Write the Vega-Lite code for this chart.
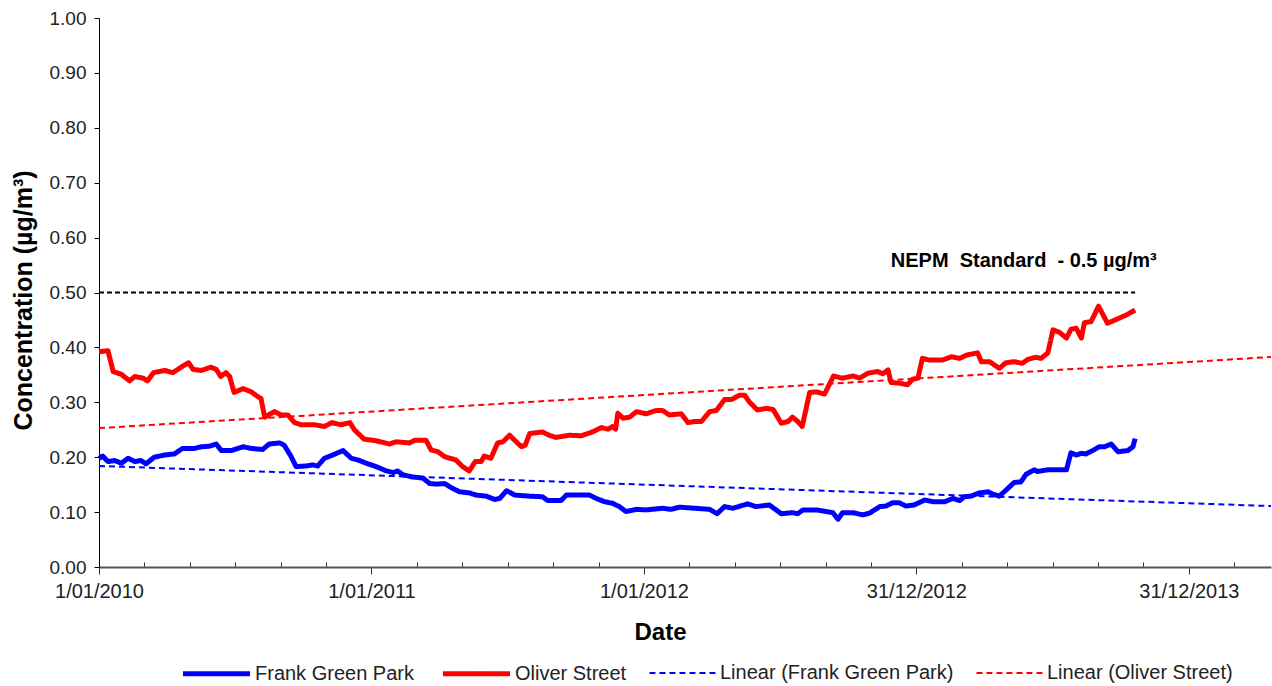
{
  "$schema": "https://vega.github.io/schema/vega-lite/v6.json",
  "width": 1172,
  "height": 549,
  "autosize": "none",
  "padding": {"left": 99, "top": 18, "right": 1, "bottom": 119},
  "background": "white",
  "config": {
    "view": {"stroke": null},
    "font": "Liberation Sans"
  },
  "datasets": {
    "series": [
      {"d": "2010-01-01", "v": 0.198, "s": "Frank Green Park"},
      {"d": "2010-01-06", "v": 0.202, "s": "Frank Green Park"},
      {"d": "2010-01-13", "v": 0.192, "s": "Frank Green Park"},
      {"d": "2010-01-22", "v": 0.194, "s": "Frank Green Park"},
      {"d": "2010-01-31", "v": 0.189, "s": "Frank Green Park"},
      {"d": "2010-02-09", "v": 0.198, "s": "Frank Green Park"},
      {"d": "2010-02-18", "v": 0.192, "s": "Frank Green Park"},
      {"d": "2010-02-26", "v": 0.194, "s": "Frank Green Park"},
      {"d": "2010-03-05", "v": 0.188, "s": "Frank Green Park"},
      {"d": "2010-03-16", "v": 0.200, "s": "Frank Green Park"},
      {"d": "2010-03-30", "v": 0.204, "s": "Frank Green Park"},
      {"d": "2010-04-12", "v": 0.206, "s": "Frank Green Park"},
      {"d": "2010-04-23", "v": 0.216, "s": "Frank Green Park"},
      {"d": "2010-05-09", "v": 0.216, "s": "Frank Green Park"},
      {"d": "2010-05-18", "v": 0.219, "s": "Frank Green Park"},
      {"d": "2010-05-29", "v": 0.220, "s": "Frank Green Park"},
      {"d": "2010-06-07", "v": 0.224, "s": "Frank Green Park"},
      {"d": "2010-06-14", "v": 0.212, "s": "Frank Green Park"},
      {"d": "2010-06-27", "v": 0.212, "s": "Frank Green Park"},
      {"d": "2010-07-13", "v": 0.219, "s": "Frank Green Park"},
      {"d": "2010-07-24", "v": 0.216, "s": "Frank Green Park"},
      {"d": "2010-08-08", "v": 0.214, "s": "Frank Green Park"},
      {"d": "2010-08-17", "v": 0.224, "s": "Frank Green Park"},
      {"d": "2010-08-31", "v": 0.226, "s": "Frank Green Park"},
      {"d": "2010-09-06", "v": 0.222, "s": "Frank Green Park"},
      {"d": "2010-09-15", "v": 0.202, "s": "Frank Green Park"},
      {"d": "2010-09-22", "v": 0.183, "s": "Frank Green Park"},
      {"d": "2010-10-06", "v": 0.184, "s": "Frank Green Park"},
      {"d": "2010-10-14", "v": 0.186, "s": "Frank Green Park"},
      {"d": "2010-10-21", "v": 0.184, "s": "Frank Green Park"},
      {"d": "2010-10-30", "v": 0.198, "s": "Frank Green Park"},
      {"d": "2010-11-10", "v": 0.204, "s": "Frank Green Park"},
      {"d": "2010-11-24", "v": 0.212, "s": "Frank Green Park"},
      {"d": "2010-12-05", "v": 0.198, "s": "Frank Green Park"},
      {"d": "2010-12-16", "v": 0.194, "s": "Frank Green Park"},
      {"d": "2010-12-25", "v": 0.189, "s": "Frank Green Park"},
      {"d": "2011-01-07", "v": 0.183, "s": "Frank Green Park"},
      {"d": "2011-01-21", "v": 0.175, "s": "Frank Green Park"},
      {"d": "2011-01-30", "v": 0.172, "s": "Frank Green Park"},
      {"d": "2011-02-05", "v": 0.175, "s": "Frank Green Park"},
      {"d": "2011-02-12", "v": 0.168, "s": "Frank Green Park"},
      {"d": "2011-02-25", "v": 0.164, "s": "Frank Green Park"},
      {"d": "2011-03-11", "v": 0.162, "s": "Frank Green Park"},
      {"d": "2011-03-20", "v": 0.152, "s": "Frank Green Park"},
      {"d": "2011-03-29", "v": 0.151, "s": "Frank Green Park"},
      {"d": "2011-04-09", "v": 0.152, "s": "Frank Green Park"},
      {"d": "2011-04-20", "v": 0.143, "s": "Frank Green Park"},
      {"d": "2011-04-29", "v": 0.137, "s": "Frank Green Park"},
      {"d": "2011-05-12", "v": 0.135, "s": "Frank Green Park"},
      {"d": "2011-05-21", "v": 0.131, "s": "Frank Green Park"},
      {"d": "2011-06-04", "v": 0.129, "s": "Frank Green Park"},
      {"d": "2011-06-15", "v": 0.123, "s": "Frank Green Park"},
      {"d": "2011-06-22", "v": 0.125, "s": "Frank Green Park"},
      {"d": "2011-07-01", "v": 0.139, "s": "Frank Green Park"},
      {"d": "2011-07-12", "v": 0.131, "s": "Frank Green Park"},
      {"d": "2011-08-01", "v": 0.129, "s": "Frank Green Park"},
      {"d": "2011-08-18", "v": 0.128, "s": "Frank Green Park"},
      {"d": "2011-08-25", "v": 0.121, "s": "Frank Green Park"},
      {"d": "2011-09-12", "v": 0.121, "s": "Frank Green Park"},
      {"d": "2011-09-19", "v": 0.131, "s": "Frank Green Park"},
      {"d": "2011-10-20", "v": 0.131, "s": "Frank Green Park"},
      {"d": "2011-10-29", "v": 0.125, "s": "Frank Green Park"},
      {"d": "2011-11-09", "v": 0.119, "s": "Frank Green Park"},
      {"d": "2011-11-20", "v": 0.116, "s": "Frank Green Park"},
      {"d": "2011-11-29", "v": 0.110, "s": "Frank Green Park"},
      {"d": "2011-12-08", "v": 0.101, "s": "Frank Green Park"},
      {"d": "2011-12-22", "v": 0.105, "s": "Frank Green Park"},
      {"d": "2012-01-04", "v": 0.104, "s": "Frank Green Park"},
      {"d": "2012-01-26", "v": 0.107, "s": "Frank Green Park"},
      {"d": "2012-02-06", "v": 0.105, "s": "Frank Green Park"},
      {"d": "2012-02-18", "v": 0.109, "s": "Frank Green Park"},
      {"d": "2012-03-29", "v": 0.105, "s": "Frank Green Park"},
      {"d": "2012-04-08", "v": 0.097, "s": "Frank Green Park"},
      {"d": "2012-04-18", "v": 0.110, "s": "Frank Green Park"},
      {"d": "2012-04-29", "v": 0.107, "s": "Frank Green Park"},
      {"d": "2012-05-19", "v": 0.115, "s": "Frank Green Park"},
      {"d": "2012-05-30", "v": 0.110, "s": "Frank Green Park"},
      {"d": "2012-06-17", "v": 0.113, "s": "Frank Green Park"},
      {"d": "2012-07-03", "v": 0.097, "s": "Frank Green Park"},
      {"d": "2012-07-18", "v": 0.099, "s": "Frank Green Park"},
      {"d": "2012-07-25", "v": 0.097, "s": "Frank Green Park"},
      {"d": "2012-08-01", "v": 0.104, "s": "Frank Green Park"},
      {"d": "2012-08-19", "v": 0.104, "s": "Frank Green Park"},
      {"d": "2012-09-10", "v": 0.099, "s": "Frank Green Park"},
      {"d": "2012-09-17", "v": 0.087, "s": "Frank Green Park"},
      {"d": "2012-09-23", "v": 0.099, "s": "Frank Green Park"},
      {"d": "2012-10-07", "v": 0.099, "s": "Frank Green Park"},
      {"d": "2012-10-20", "v": 0.095, "s": "Frank Green Park"},
      {"d": "2012-10-29", "v": 0.098, "s": "Frank Green Park"},
      {"d": "2012-11-12", "v": 0.110, "s": "Frank Green Park"},
      {"d": "2012-11-20", "v": 0.111, "s": "Frank Green Park"},
      {"d": "2012-11-29", "v": 0.117, "s": "Frank Green Park"},
      {"d": "2012-12-08", "v": 0.117, "s": "Frank Green Park"},
      {"d": "2012-12-17", "v": 0.111, "s": "Frank Green Park"},
      {"d": "2012-12-28", "v": 0.113, "s": "Frank Green Park"},
      {"d": "2013-01-11", "v": 0.122, "s": "Frank Green Park"},
      {"d": "2013-01-22", "v": 0.119, "s": "Frank Green Park"},
      {"d": "2013-02-07", "v": 0.119, "s": "Frank Green Park"},
      {"d": "2013-02-18", "v": 0.125, "s": "Frank Green Park"},
      {"d": "2013-02-27", "v": 0.121, "s": "Frank Green Park"},
      {"d": "2013-03-05", "v": 0.128, "s": "Frank Green Park"},
      {"d": "2013-03-14", "v": 0.129, "s": "Frank Green Park"},
      {"d": "2013-03-25", "v": 0.135, "s": "Frank Green Park"},
      {"d": "2013-04-06", "v": 0.137, "s": "Frank Green Park"},
      {"d": "2013-04-12", "v": 0.133, "s": "Frank Green Park"},
      {"d": "2013-04-21", "v": 0.129, "s": "Frank Green Park"},
      {"d": "2013-04-30", "v": 0.140, "s": "Frank Green Park"},
      {"d": "2013-05-11", "v": 0.154, "s": "Frank Green Park"},
      {"d": "2013-05-20", "v": 0.155, "s": "Frank Green Park"},
      {"d": "2013-05-27", "v": 0.169, "s": "Frank Green Park"},
      {"d": "2013-06-07", "v": 0.177, "s": "Frank Green Park"},
      {"d": "2013-06-11", "v": 0.174, "s": "Frank Green Park"},
      {"d": "2013-06-25", "v": 0.177, "s": "Frank Green Park"},
      {"d": "2013-07-20", "v": 0.177, "s": "Frank Green Park"},
      {"d": "2013-07-26", "v": 0.208, "s": "Frank Green Park"},
      {"d": "2013-08-02", "v": 0.204, "s": "Frank Green Park"},
      {"d": "2013-08-09", "v": 0.207, "s": "Frank Green Park"},
      {"d": "2013-08-15", "v": 0.206, "s": "Frank Green Park"},
      {"d": "2013-08-24", "v": 0.212, "s": "Frank Green Park"},
      {"d": "2013-09-02", "v": 0.219, "s": "Frank Green Park"},
      {"d": "2013-09-09", "v": 0.219, "s": "Frank Green Park"},
      {"d": "2013-09-18", "v": 0.224, "s": "Frank Green Park"},
      {"d": "2013-09-27", "v": 0.210, "s": "Frank Green Park"},
      {"d": "2013-10-10", "v": 0.212, "s": "Frank Green Park"},
      {"d": "2013-10-17", "v": 0.219, "s": "Frank Green Park"},
      {"d": "2013-10-20", "v": 0.234, "s": "Frank Green Park"},

      {"d": "2010-01-01", "v": 0.392, "s": "Oliver Street"},
      {"d": "2010-01-13", "v": 0.394, "s": "Oliver Street"},
      {"d": "2010-01-20", "v": 0.356, "s": "Oliver Street"},
      {"d": "2010-01-31", "v": 0.351, "s": "Oliver Street"},
      {"d": "2010-02-11", "v": 0.339, "s": "Oliver Street"},
      {"d": "2010-02-18", "v": 0.347, "s": "Oliver Street"},
      {"d": "2010-03-01", "v": 0.344, "s": "Oliver Street"},
      {"d": "2010-03-07", "v": 0.339, "s": "Oliver Street"},
      {"d": "2010-03-15", "v": 0.354, "s": "Oliver Street"},
      {"d": "2010-03-30", "v": 0.358, "s": "Oliver Street"},
      {"d": "2010-04-10", "v": 0.354, "s": "Oliver Street"},
      {"d": "2010-04-21", "v": 0.364, "s": "Oliver Street"},
      {"d": "2010-05-01", "v": 0.372, "s": "Oliver Street"},
      {"d": "2010-05-07", "v": 0.360, "s": "Oliver Street"},
      {"d": "2010-05-18", "v": 0.358, "s": "Oliver Street"},
      {"d": "2010-05-31", "v": 0.364, "s": "Oliver Street"},
      {"d": "2010-06-07", "v": 0.360, "s": "Oliver Street"},
      {"d": "2010-06-13", "v": 0.347, "s": "Oliver Street"},
      {"d": "2010-06-20", "v": 0.354, "s": "Oliver Street"},
      {"d": "2010-06-25", "v": 0.347, "s": "Oliver Street"},
      {"d": "2010-07-01", "v": 0.318, "s": "Oliver Street"},
      {"d": "2010-07-13", "v": 0.325, "s": "Oliver Street"},
      {"d": "2010-07-24", "v": 0.319, "s": "Oliver Street"},
      {"d": "2010-08-02", "v": 0.310, "s": "Oliver Street"},
      {"d": "2010-08-06", "v": 0.307, "s": "Oliver Street"},
      {"d": "2010-08-11", "v": 0.273, "s": "Oliver Street"},
      {"d": "2010-08-24", "v": 0.283, "s": "Oliver Street"},
      {"d": "2010-09-02", "v": 0.277, "s": "Oliver Street"},
      {"d": "2010-09-11", "v": 0.277, "s": "Oliver Street"},
      {"d": "2010-09-20", "v": 0.263, "s": "Oliver Street"},
      {"d": "2010-09-29", "v": 0.259, "s": "Oliver Street"},
      {"d": "2010-10-17", "v": 0.259, "s": "Oliver Street"},
      {"d": "2010-10-30", "v": 0.256, "s": "Oliver Street"},
      {"d": "2010-11-09", "v": 0.263, "s": "Oliver Street"},
      {"d": "2010-11-21", "v": 0.259, "s": "Oliver Street"},
      {"d": "2010-12-03", "v": 0.263, "s": "Oliver Street"},
      {"d": "2010-12-09", "v": 0.250, "s": "Oliver Street"},
      {"d": "2010-12-22", "v": 0.233, "s": "Oliver Street"},
      {"d": "2011-01-07", "v": 0.230, "s": "Oliver Street"},
      {"d": "2011-01-25", "v": 0.224, "s": "Oliver Street"},
      {"d": "2011-02-03", "v": 0.228, "s": "Oliver Street"},
      {"d": "2011-02-21", "v": 0.226, "s": "Oliver Street"},
      {"d": "2011-02-28", "v": 0.231, "s": "Oliver Street"},
      {"d": "2011-03-15", "v": 0.231, "s": "Oliver Street"},
      {"d": "2011-03-22", "v": 0.213, "s": "Oliver Street"},
      {"d": "2011-03-31", "v": 0.210, "s": "Oliver Street"},
      {"d": "2011-04-09", "v": 0.201, "s": "Oliver Street"},
      {"d": "2011-04-24", "v": 0.195, "s": "Oliver Street"},
      {"d": "2011-05-03", "v": 0.183, "s": "Oliver Street"},
      {"d": "2011-05-12", "v": 0.175, "s": "Oliver Street"},
      {"d": "2011-05-20", "v": 0.192, "s": "Oliver Street"},
      {"d": "2011-05-28", "v": 0.192, "s": "Oliver Street"},
      {"d": "2011-06-01", "v": 0.202, "s": "Oliver Street"},
      {"d": "2011-06-10", "v": 0.198, "s": "Oliver Street"},
      {"d": "2011-06-19", "v": 0.226, "s": "Oliver Street"},
      {"d": "2011-06-26", "v": 0.228, "s": "Oliver Street"},
      {"d": "2011-07-05", "v": 0.240, "s": "Oliver Street"},
      {"d": "2011-07-14", "v": 0.228, "s": "Oliver Street"},
      {"d": "2011-07-21", "v": 0.219, "s": "Oliver Street"},
      {"d": "2011-07-26", "v": 0.222, "s": "Oliver Street"},
      {"d": "2011-08-01", "v": 0.243, "s": "Oliver Street"},
      {"d": "2011-08-18", "v": 0.246, "s": "Oliver Street"},
      {"d": "2011-08-27", "v": 0.240, "s": "Oliver Street"},
      {"d": "2011-09-05", "v": 0.236, "s": "Oliver Street"},
      {"d": "2011-09-23", "v": 0.240, "s": "Oliver Street"},
      {"d": "2011-10-09", "v": 0.239, "s": "Oliver Street"},
      {"d": "2011-10-24", "v": 0.246, "s": "Oliver Street"},
      {"d": "2011-11-05", "v": 0.254, "s": "Oliver Street"},
      {"d": "2011-11-14", "v": 0.251, "s": "Oliver Street"},
      {"d": "2011-11-20", "v": 0.256, "s": "Oliver Street"},
      {"d": "2011-11-24", "v": 0.251, "s": "Oliver Street"},
      {"d": "2011-11-27", "v": 0.280, "s": "Oliver Street"},
      {"d": "2011-12-04", "v": 0.271, "s": "Oliver Street"},
      {"d": "2011-12-13", "v": 0.273, "s": "Oliver Street"},
      {"d": "2011-12-22", "v": 0.283, "s": "Oliver Street"},
      {"d": "2012-01-04", "v": 0.279, "s": "Oliver Street"},
      {"d": "2012-01-17", "v": 0.285, "s": "Oliver Street"},
      {"d": "2012-01-26", "v": 0.285, "s": "Oliver Street"},
      {"d": "2012-02-04", "v": 0.277, "s": "Oliver Street"},
      {"d": "2012-02-20", "v": 0.279, "s": "Oliver Street"},
      {"d": "2012-02-29", "v": 0.263, "s": "Oliver Street"},
      {"d": "2012-03-09", "v": 0.265, "s": "Oliver Street"},
      {"d": "2012-03-18", "v": 0.265, "s": "Oliver Street"},
      {"d": "2012-03-29", "v": 0.283, "s": "Oliver Street"},
      {"d": "2012-04-07", "v": 0.285, "s": "Oliver Street"},
      {"d": "2012-04-18", "v": 0.305, "s": "Oliver Street"},
      {"d": "2012-04-27", "v": 0.305, "s": "Oliver Street"},
      {"d": "2012-05-08", "v": 0.313, "s": "Oliver Street"},
      {"d": "2012-05-15", "v": 0.313, "s": "Oliver Street"},
      {"d": "2012-05-21", "v": 0.301, "s": "Oliver Street"},
      {"d": "2012-06-01", "v": 0.286, "s": "Oliver Street"},
      {"d": "2012-06-13", "v": 0.289, "s": "Oliver Street"},
      {"d": "2012-06-22", "v": 0.287, "s": "Oliver Street"},
      {"d": "2012-07-03", "v": 0.262, "s": "Oliver Street"},
      {"d": "2012-07-12", "v": 0.265, "s": "Oliver Street"},
      {"d": "2012-07-18", "v": 0.273, "s": "Oliver Street"},
      {"d": "2012-07-25", "v": 0.265, "s": "Oliver Street"},
      {"d": "2012-07-31", "v": 0.256, "s": "Oliver Street"},
      {"d": "2012-08-10", "v": 0.318, "s": "Oliver Street"},
      {"d": "2012-08-19", "v": 0.319, "s": "Oliver Street"},
      {"d": "2012-08-30", "v": 0.315, "s": "Oliver Street"},
      {"d": "2012-09-11", "v": 0.348, "s": "Oliver Street"},
      {"d": "2012-09-23", "v": 0.344, "s": "Oliver Street"},
      {"d": "2012-10-07", "v": 0.348, "s": "Oliver Street"},
      {"d": "2012-10-16", "v": 0.344, "s": "Oliver Street"},
      {"d": "2012-10-27", "v": 0.353, "s": "Oliver Street"},
      {"d": "2012-11-09", "v": 0.356, "s": "Oliver Street"},
      {"d": "2012-11-16", "v": 0.352, "s": "Oliver Street"},
      {"d": "2012-11-23", "v": 0.359, "s": "Oliver Street"},
      {"d": "2012-11-27", "v": 0.336, "s": "Oliver Street"},
      {"d": "2012-12-08", "v": 0.335, "s": "Oliver Street"},
      {"d": "2012-12-19", "v": 0.332, "s": "Oliver Street"},
      {"d": "2012-12-26", "v": 0.342, "s": "Oliver Street"},
      {"d": "2013-01-02", "v": 0.344, "s": "Oliver Street"},
      {"d": "2013-01-08", "v": 0.380, "s": "Oliver Street"},
      {"d": "2013-01-17", "v": 0.377, "s": "Oliver Street"},
      {"d": "2013-02-04", "v": 0.377, "s": "Oliver Street"},
      {"d": "2013-02-16", "v": 0.383, "s": "Oliver Street"},
      {"d": "2013-02-27", "v": 0.380, "s": "Oliver Street"},
      {"d": "2013-03-08", "v": 0.386, "s": "Oliver Street"},
      {"d": "2013-03-23", "v": 0.390, "s": "Oliver Street"},
      {"d": "2013-03-28", "v": 0.374, "s": "Oliver Street"},
      {"d": "2013-04-08", "v": 0.374, "s": "Oliver Street"},
      {"d": "2013-04-21", "v": 0.362, "s": "Oliver Street"},
      {"d": "2013-04-30", "v": 0.372, "s": "Oliver Street"},
      {"d": "2013-05-11", "v": 0.374, "s": "Oliver Street"},
      {"d": "2013-05-22", "v": 0.371, "s": "Oliver Street"},
      {"d": "2013-05-29", "v": 0.378, "s": "Oliver Street"},
      {"d": "2013-06-09", "v": 0.382, "s": "Oliver Street"},
      {"d": "2013-06-16", "v": 0.380, "s": "Oliver Street"},
      {"d": "2013-06-25", "v": 0.390, "s": "Oliver Street"},
      {"d": "2013-07-02", "v": 0.432, "s": "Oliver Street"},
      {"d": "2013-07-11", "v": 0.427, "s": "Oliver Street"},
      {"d": "2013-07-20", "v": 0.417, "s": "Oliver Street"},
      {"d": "2013-07-26", "v": 0.433, "s": "Oliver Street"},
      {"d": "2013-08-02", "v": 0.435, "s": "Oliver Street"},
      {"d": "2013-08-09", "v": 0.417, "s": "Oliver Street"},
      {"d": "2013-08-13", "v": 0.445, "s": "Oliver Street"},
      {"d": "2013-08-22", "v": 0.447, "s": "Oliver Street"},
      {"d": "2013-09-01", "v": 0.475, "s": "Oliver Street"},
      {"d": "2013-09-13", "v": 0.444, "s": "Oliver Street"},
      {"d": "2013-09-25", "v": 0.451, "s": "Oliver Street"},
      {"d": "2013-10-08", "v": 0.459, "s": "Oliver Street"},
      {"d": "2013-10-20", "v": 0.468, "s": "Oliver Street"},

      {"d": "2010-01-01", "v": 0.184, "s": "Linear (Frank Green Park)"},
      {"d": "2014-04-20", "v": 0.111, "s": "Linear (Frank Green Park)"},
      {"d": "2010-01-01", "v": 0.253, "s": "Linear (Oliver Street)"},
      {"d": "2014-04-20", "v": 0.3825, "s": "Linear (Oliver Street)"}
    ],
    "nepm": [
      {"d": "2010-01-01", "v": 0.5},
      {"d": "2013-10-20", "v": 0.5}
    ],
    "label": [
      {"d": "2013-11-18", "v": 0.557, "t": "NEPM\u00a0\u00a0Standard\u00a0\u00a0-\u00a00.5\u00a0µg/m³"}
    ]
  },
  "layer": [
    {
      "data": {"name": "nepm"},
      "mark": {"type": "line", "color": "#000000", "strokeWidth": 2, "strokeDash": [5, 3]},
      "encoding": {
        "x": {"field": "d", "type": "temporal"},
        "y": {"field": "v", "type": "quantitative"}
      }
    },
    {
      "data": {"name": "series"},
      "mark": {"type": "line", "strokeJoin": "round", "strokeCap": "butt"},
      "encoding": {
        "x": {
          "field": "d",
          "type": "temporal",
          "title": "Date",
          "scale": {
            "type": "utc",
            "domain": [
              {"year": 2010, "month": 1, "date": 1, "utc": true},
              {"year": 2014, "month": 4, "date": 20, "utc": true}
            ]
          },
          "axis": {
            "values": [1262304000000, 1267560000000, 1272816000000, 1278072000000, 1283328000000, 1288584000000, 1293840000000, 1299096000000, 1304352000000, 1309608000000, 1314864000000, 1320120000000, 1325376000000, 1330632000000, 1335888000000, 1341144000000, 1346400000000, 1351656000000, 1356912000000, 1362168000000, 1367424000000, 1372680000000, 1377936000000, 1383192000000, 1388448000000, 1393704000000],
            "labelExpr": "(+datum.value - 1262304000000) % 31536000000 == 0 ? utcFormat(datum.value, '%-d/%m/%Y') : ''",
            "tickSize": {"condition": {"test": "(+datum.value - 1262304000000) % 31536000000 == 0", "value": 7}, "value": -5},
            "grid": false,
            "labelFlush": false,
            "labelOverlap": false,
            "labelFont": "Liberation Sans",
            "labelFontSize": 20,
            "labelColor": "#222222",
            "labelPadding": 7,
            "domainColor": "#555555",
            "domainWidth": 2,
            "tickColor": "#333333",
            "tickWidth": 1,
            "titleFont": "Liberation Sans",
            "titleFontSize": 24,
            "titleFontWeight": "bold",
            "titleColor": "#000000",
            "titleX": 561,
            "titleY": 65,
            "titleBaseline": "middle",
            "titleAlign": "center"
          }
        },
        "y": {
          "field": "v",
          "type": "quantitative",
          "title": "Concentration (µg/m³)",
          "scale": {"domain": [0, 1], "nice": false},
          "axis": {
            "values": [0, 0.1, 0.2, 0.3, 0.4, 0.5, 0.6, 0.7, 0.8, 0.9, 1.0],
            "format": ".2f",
            "grid": false,
            "labelFlush": false,
            "labelOverlap": false,
            "labelFont": "Liberation Sans",
            "labelFontSize": 19,
            "labelColor": "#222222",
            "labelPadding": 8,
            "tickSize": 5,
            "tickColor": "#000000",
            "domainColor": "#000000",
            "domainWidth": 1,
            "titleFont": "Liberation Sans",
            "titleFontSize": 25,
            "titleFontWeight": "bold",
            "titleColor": "#000000",
            "titleAngle": 270,
            "titleX": -76,
            "titleY": 282,
            "titleAlign": "center",
            "titleBaseline": "middle"
          }
        },
        "color": {
          "field": "s",
          "type": "nominal",
          "title": null,
          "scale": {
            "domain": ["Frank Green Park", "Oliver Street", "Linear (Frank Green Park)", "Linear (Oliver Street)"],
            "range": ["#0000FF", "#FF0000", "#0000FF", "#FF0000"]
          },
          "legend": {
            "orient": "none",
            "direction": "horizontal",
            "legendX": 81,
            "legendY": 619,
            "symbolType": "stroke",
            "symbolSize": 4500,
            "labelFont": "Liberation Sans",
            "labelFontSize": 20,
            "labelColor": "#222222",
            "labelOffset": 2,
            "columnPadding": 18,
            "labelLimit": 400
          }
        },
        "strokeDash": {
          "field": "s",
          "type": "nominal",
          "title": null,
          "scale": {
            "domain": ["Frank Green Park", "Oliver Street", "Linear (Frank Green Park)", "Linear (Oliver Street)"],
            "range": [[1, 0], [1, 0], [6, 4], [6, 4]]
          }
        },
        "strokeWidth": {
          "field": "s",
          "type": "nominal",
          "title": null,
          "scale": {
            "type": "ordinal",
            "domain": ["Frank Green Park", "Oliver Street", "Linear (Frank Green Park)", "Linear (Oliver Street)"],
            "range": [5, 5, 2, 2]
          }
        }
      }
    },
    {
      "data": {"name": "label"},
      "mark": {"type": "text", "align": "right", "baseline": "middle", "font": "Liberation Sans", "fontSize": 20, "fontWeight": "bold", "color": "#000000"},
      "encoding": {
        "x": {"field": "d", "type": "temporal"},
        "y": {"field": "v", "type": "quantitative"},
        "text": {"field": "t"}
      }
    }
  ]
}
